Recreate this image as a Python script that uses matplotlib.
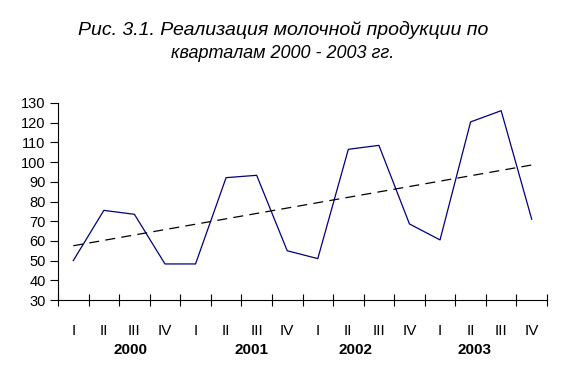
import matplotlib.pyplot as plt
import matplotlib.transforms as mtransforms
import numpy as np

plt.rcParams["font.family"] = ["Liberation Sans", "DejaVu Sans"]

# Data: milk production by quarter, 2000-2003
quarters = ["I", "II", "III", "IV"] * 4
years = ["2000", "2001", "2002", "2003"]
values = [50, 75.5, 73.5, 48.3, 48.3, 92.1, 93.3, 55,
          51, 106.5, 108.5, 68.6, 60.5, 120.4, 126.1, 71]
# year label positions (in category units), as placed in the original
year_pos = [1.86, 5.84, 9.25, 13.13]

x = np.arange(len(values))
coef = np.polyfit(x, values, 1)
trend = np.polyval(coef, x)

fig = plt.figure(figsize=(5.71, 3.82), dpi=100)
ax = fig.add_axes([58 / 571, 82 / 382, 489 / 571, 197 / 382])

ax.plot(x, values, color="#000080", linewidth=0.9)
ax.plot(x, trend, color="black", linewidth=0.9, linestyle=(0, (8, 5)))

ax.set_xlim(-0.5, len(values) - 0.5)
ax.set_ylim(30, 130)
ax.set_yticks(range(30, 131, 10))
ax.tick_params(axis="y", direction="out", length=6, width=0.8, labelsize=10.5, pad=3)

# boundaries get ticks, centers get the roman numerals
ax.set_xticks(np.arange(-0.5, len(values), 1))
ax.set_xticklabels([])
ax.tick_params(axis="x", which="major", direction="inout", length=8, width=0.8)
ax.set_xticks(x, minor=True)
ax.set_xticklabels(quarters, minor=True)
ax.tick_params(axis="x", which="minor", length=0, labelsize=11, pad=17)

trans = mtransforms.blended_transform_factory(ax.transData, fig.transFigure)
for xp, yr in zip(year_pos, years):
    ax.text(xp, 1 - 350 / 382, yr, transform=trans, ha="center", va="center",
            fontsize=11, fontweight="bold")

for s in ["top", "right"]:
    ax.spines[s].set_visible(False)
for s in ["left", "bottom"]:
    ax.spines[s].set_linewidth(0.8)

fig.text(0.496, 1 - 30 / 382, "Рис. 3.1. Реализация молочной продукции по",
         ha="center", va="center", fontsize=14, style="italic")
fig.text(0.495, 1 - 53 / 382, "кварталам 2000 - 2003 гг.",
         ha="center", va="center", fontsize=13, style="italic")

fig.savefig("out.png", dpi=100)
